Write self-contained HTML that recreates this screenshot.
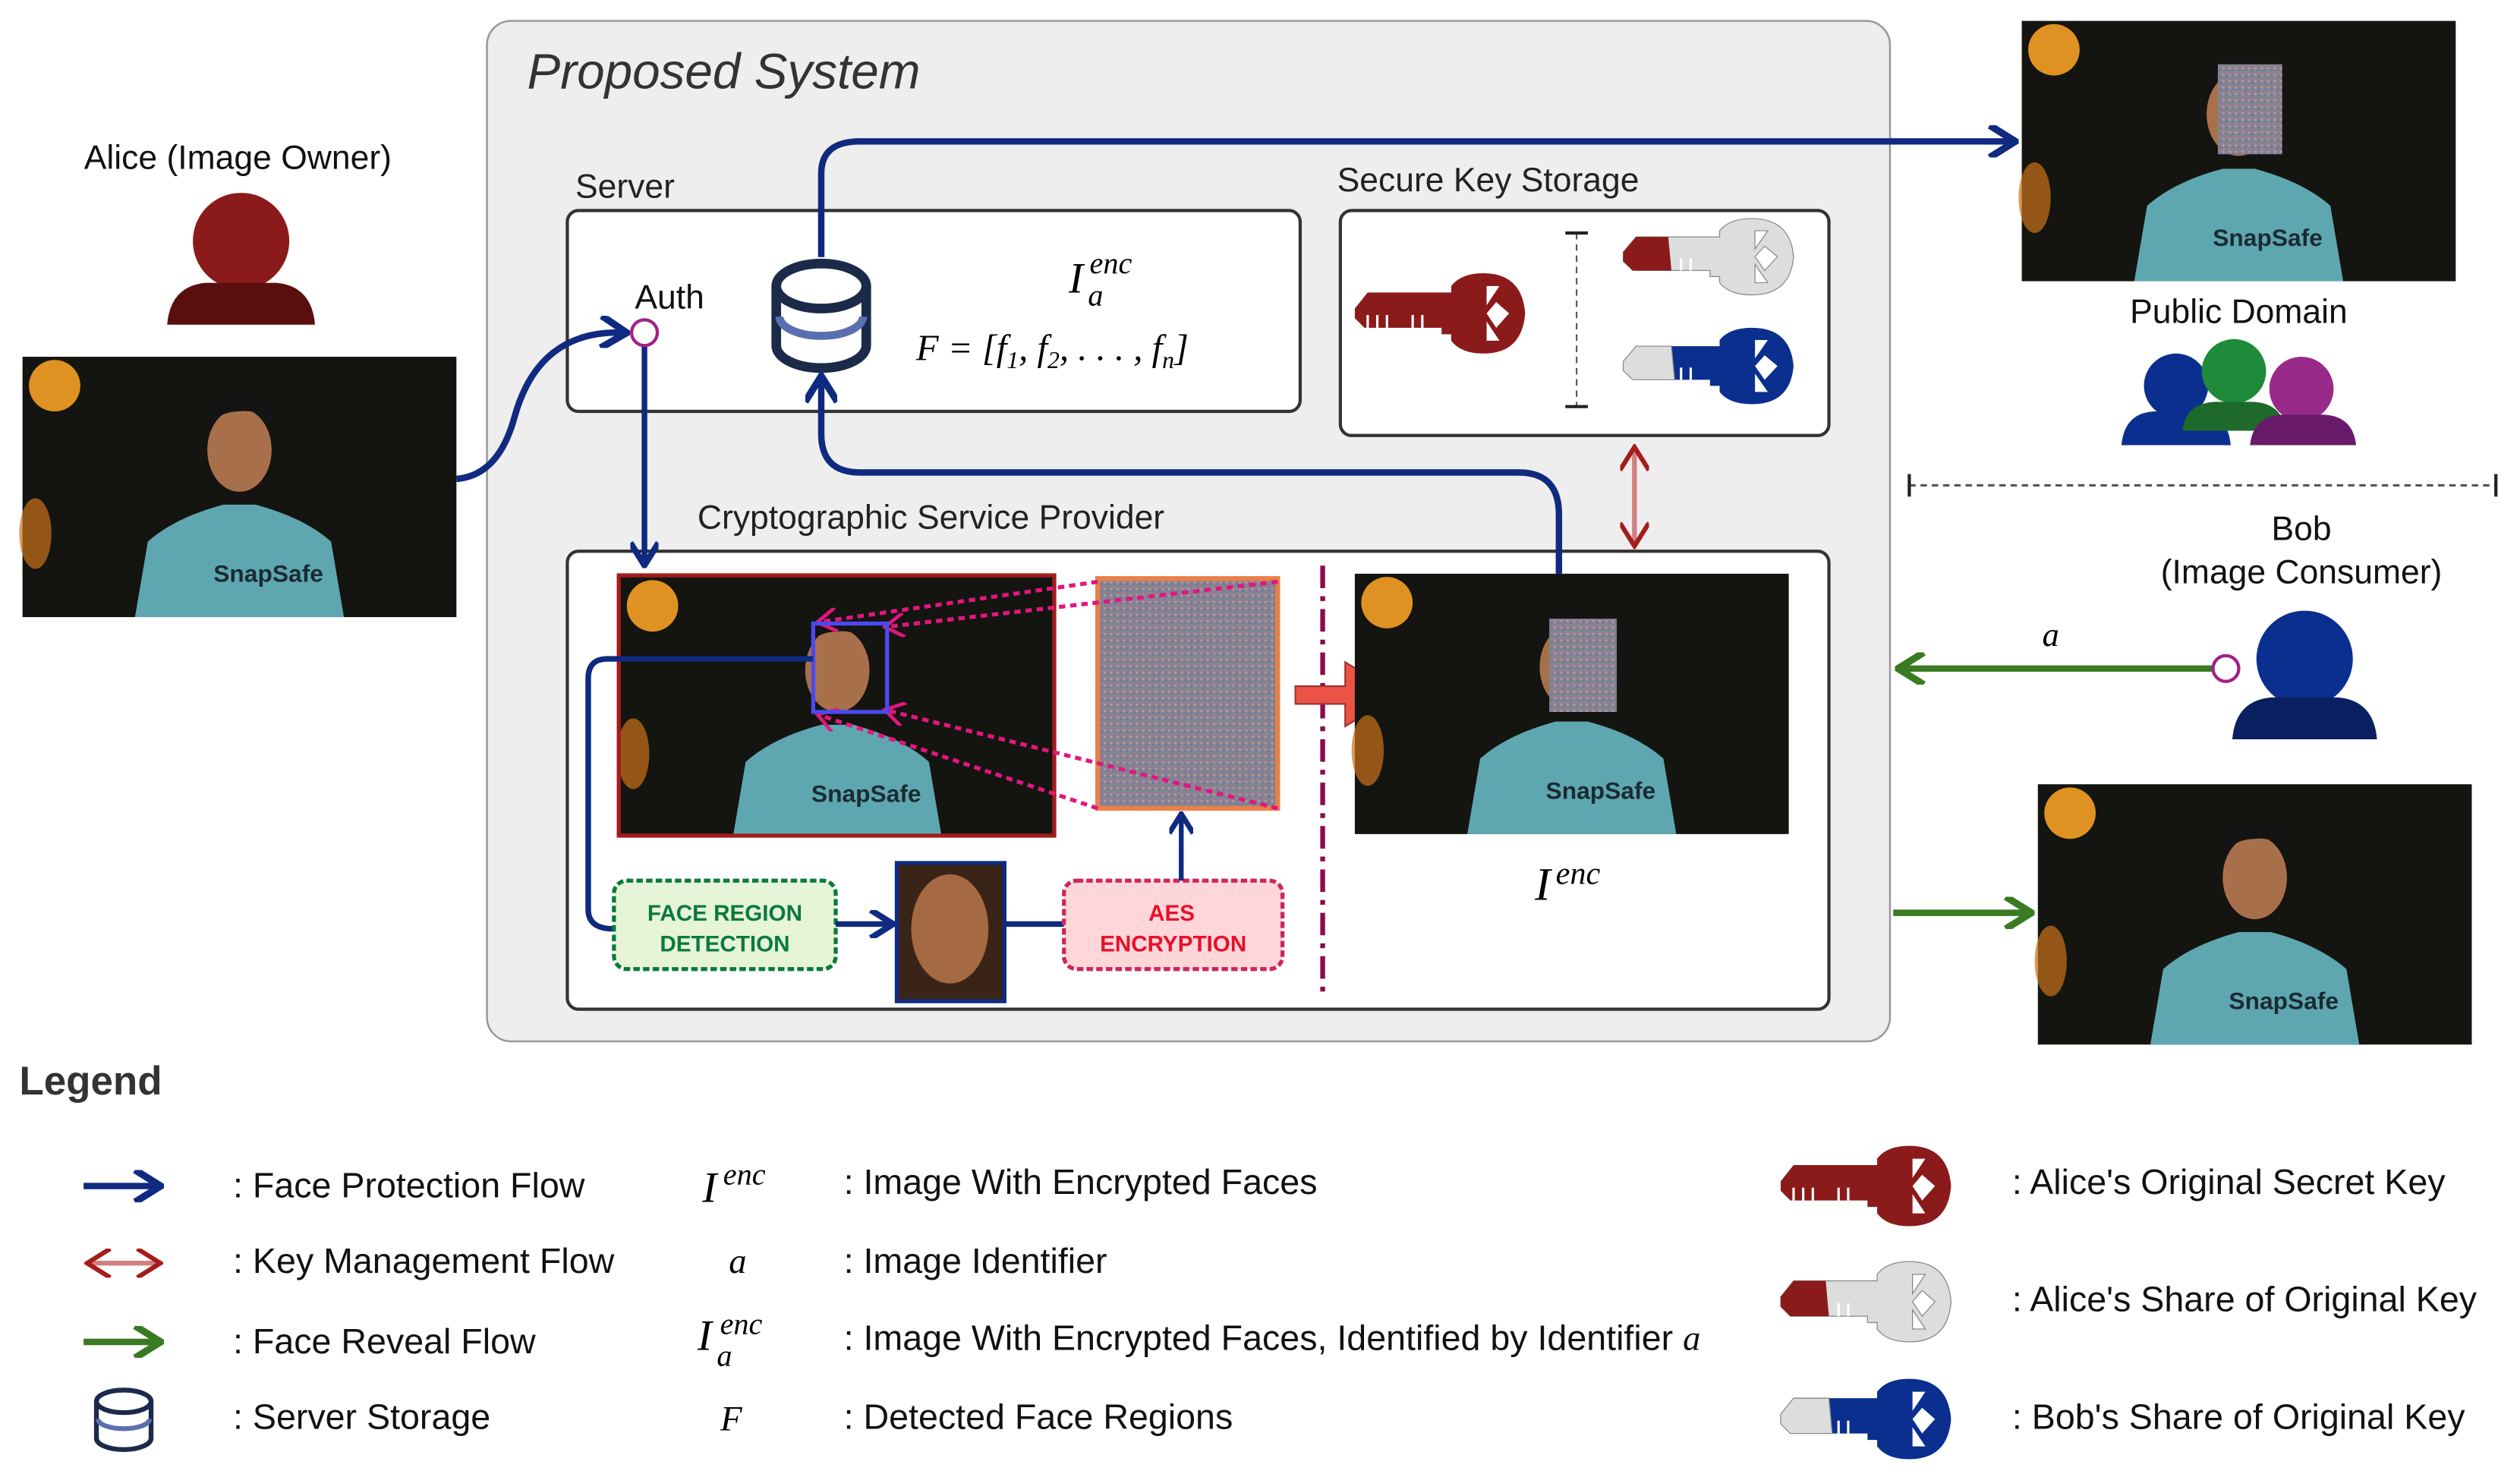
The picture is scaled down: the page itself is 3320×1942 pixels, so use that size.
<!DOCTYPE html>
<html><head><meta charset="utf-8"><style>
html,body{margin:0;padding:0;background:#fff}
svg{display:block}
text{font-family:"Liberation Sans",sans-serif}
.m{font-family:"Liberation Serif",serif;font-style:italic}
</style></head><body>
<svg width="3320" height="1942" viewBox="0 0 1568 917.2" preserveAspectRatio="none" xmlns="http://www.w3.org/2000/svg">
<defs>
<marker id="ab" viewBox="0 0 10 10" refX="8" refY="5" markerWidth="5" markerHeight="5" orient="auto"><path d="M1,0 L9,5 L1,10" fill="none" stroke="#0f2a80" stroke-width="2.2"/></marker>
<marker id="ag" viewBox="0 0 10 10" refX="8" refY="5" markerWidth="5" markerHeight="5" orient="auto"><path d="M1,0 L9,5 L1,10" fill="none" stroke="#3a7a22" stroke-width="2.2"/></marker>
<marker id="ar" viewBox="0 0 10 10" refX="8" refY="5" markerWidth="6" markerHeight="6" orient="auto-start-reverse"><path d="M1,0 L9,5 L1,10" fill="none" stroke="#a51c1c" stroke-width="1.6"/></marker>
<marker id="ap" viewBox="0 0 10 10" refX="8" refY="5" markerWidth="6" markerHeight="6" orient="auto"><path d="M1,0 L9,5 L1,10" fill="none" stroke="#e0177f" stroke-width="1.5"/></marker>
<pattern id="nz" width="4" height="4" patternUnits="userSpaceOnUse"><rect width="4" height="4" fill="#8a8290"/><rect width="1" height="1" fill="#5a9a6a"/><rect x="2" y="1" width="1" height="1" fill="#b070b0"/><rect x="1" y="3" width="1" height="1" fill="#6070c0"/><rect x="3" y="2" width="1" height="1" fill="#c0b0a0"/></pattern>
<g id="photo">
<rect width="270" height="162" fill="#141410"/>
<circle cx="20" cy="18" r="16" fill="#f5a023" opacity=".9"/>
<ellipse cx="8" cy="110" rx="10" ry="22" fill="#c9721a" opacity=".7"/>
<path d="M70,162 L78,115 Q95,100 125,92 L145,92 Q175,100 192,115 L200,162 Z" fill="#5fa7b0"/>
<ellipse cx="135" cy="58" rx="20" ry="26" fill="#a8704a"/>
<path d="M113,48 Q115,20 135,22 Q158,20 158,48 Q150,32 135,34 Q120,34 113,48Z" fill="#141414"/>
<text x="153" y="140" font-family="Liberation Serif,serif" font-weight="bold" font-size="15" fill="#1a2b33" text-anchor="middle">SnapSafe</text>
</g>
<g id="key">
<path d="M0,22 L8,12 L60,12 L60,8 Q66,0 80,0 Q104,0 106,25 Q104,50 80,50 Q66,50 60,42 L60,38 L54,38 L54,34 L6,34 L0,28Z"/>
<path d="M82,8 L90,8 L82,20Z M88,18 L96,25 L88,34 L82,25Z M82,30 L90,42 L82,42Z" fill="#fff"/>
<path d="M8,34 v-8 M14,34 v-8 M20,34 v-8 M36,34 v-8 M42,34 v-8" stroke="#fff" stroke-width="1.5"/>
</g>
</defs>

<rect x="303" y="13" width="873" height="635" rx="15" fill="#eeeeee" stroke="#9a9a9a" stroke-width="1.2"/>
<text x="328" y="55" font-size="31" font-style="italic" fill="#333">Proposed System</text>
<text x="358" y="123" font-size="21" fill="#222">Server</text>
<rect x="353" y="131" width="456" height="125" rx="7" fill="#fff" stroke="#333" stroke-width="2"/>
<text x="832" y="119" font-size="21" fill="#222">Secure Key Storage</text>
<rect x="834" y="131" width="304" height="140" rx="7" fill="#fff" stroke="#333" stroke-width="2"/>
<text x="434" y="329" font-size="21" fill="#222">Cryptographic Service Provider</text>
<rect x="353" y="343" width="785" height="285" rx="7" fill="#fff" stroke="#333" stroke-width="2"/>

<text x="148" y="105" font-size="21" text-anchor="middle" fill="#111">Alice (Image Owner)</text>
<circle cx="150" cy="150" r="30" fill="#8b1a1a"/>
<path d="M104,202 Q106,178 128,176 L172,176 Q194,178 196,202Z" fill="#5a0f0f"/>
<use href="#photo" x="14" y="222"/>

<path d="M284,298 Q310,296 320,260 Q335,205 388,207" fill="none" stroke="#0f2a80" stroke-width="4" marker-end="url(#ab)"/>
<text x="395" y="192" font-size="21" fill="#111">Auth</text>
<line x1="401" y1="215" x2="401" y2="350" stroke="#0f2a80" stroke-width="3.5" marker-end="url(#ab)"/>
<circle cx="401" cy="207" r="8" fill="#fff" stroke="#a0208a" stroke-width="2"/>

<path d="M511,160 L511,108 Q511,88 535,88 L1252,88" fill="none" stroke="#0f2a80" stroke-width="4" marker-end="url(#ab)"/>
<g stroke="#1c2a4a" stroke-width="6" fill="#fff">
<path d="M483,178 L483,215 A28,14 0 0 0 539,215 L539,178"/>
<ellipse cx="511" cy="178" rx="28" ry="14"/>
</g>
<path d="M485,197 A26,12 0 0 0 537,197" stroke="#5a6fb0" stroke-width="5" fill="none"/>
<path d="M970,357 L970,320 Q970,294 945,294 L535,294 Q511,294 511,270 L511,236" fill="none" stroke="#0f2a80" stroke-width="4" marker-end="url(#ab)"/>
<text x="665" y="182" class="m" font-size="27">I</text><text x="678" y="170" class="m" font-size="19">enc</text><text x="677" y="190" class="m" font-size="19">a</text>
<text x="570" y="224" class="m" font-size="23">F = [f<tspan font-size="15" dy="5">1</tspan><tspan dy="-5">, f</tspan><tspan font-size="15" dy="5">2</tspan><tspan dy="-5">, . . . , f</tspan><tspan font-size="15" dy="5">n</tspan><tspan dy="-5">]</tspan></text>

<use href="#key" x="843" y="170" fill="#8b1a1a"/>
<line x1="981" y1="145" x2="981" y2="253" stroke="#555" stroke-dasharray="4,3"/>
<line x1="974" y1="145" x2="988" y2="145" stroke="#222" stroke-width="2"/><line x1="974" y1="253" x2="988" y2="253" stroke="#222" stroke-width="2"/>
<g transform="translate(1010,136) scale(1,.95)"><use href="#key" fill="#dddddd" stroke="#888" stroke-width=".6"/><path d="M0,22 L8,12 L28,12 L30,34 L6,34 L0,28Z" fill="#8b1a1a"/></g>
<g transform="translate(1010,204) scale(1,.95)"><use href="#key" fill="#0b2f8f"/><path d="M0,22 L8,12 L30,12 L32,34 L6,34 L0,28Z" fill="#dddddd" stroke="#888" stroke-width=".6"/></g>

<line x1="1017" y1="280" x2="1017" y2="338" stroke="#d08080" stroke-width="3" marker-start="url(#ar)" marker-end="url(#ar)"/>

<use href="#photo" x="1258" y="13"/>
<rect x="1380" y="40" width="40" height="56" fill="url(#nz)"/>
<text x="1393" y="201" font-size="21" text-anchor="middle" fill="#111">Public Domain</text>
<circle cx="1354" cy="240" r="20" fill="#0b2f8f"/><path d="M1320,277 Q1322,256 1342,256 L1366,256 Q1386,256 1388,277Z" fill="#0b2f8f"/>
<circle cx="1390" cy="231" r="20" fill="#1e8a3a"/><path d="M1358,268 Q1360,250 1380,250 L1400,250 Q1420,250 1422,268Z" fill="#1e6a2a"/>
<circle cx="1432" cy="242" r="20" fill="#9a2a8a"/><path d="M1400,277 Q1402,258 1422,258 L1444,258 Q1464,258 1466,277Z" fill="#6a1a6a"/>
<line x1="1188" y1="302" x2="1553" y2="302" stroke="#555" stroke-width="1.5" stroke-dasharray="4,3"/>
<line x1="1188" y1="295" x2="1188" y2="309" stroke="#222" stroke-width="2"/><line x1="1553" y1="295" x2="1553" y2="309" stroke="#222" stroke-width="2"/>

<text x="1432" y="336" font-size="21" text-anchor="middle" fill="#111">Bob</text>
<text x="1432" y="363" font-size="21" text-anchor="middle" fill="#111">(Image Consumer)</text>
<circle cx="1434" cy="410" r="30" fill="#0b2f8f"/>
<path d="M1389,460 Q1391,436 1413,434 L1455,434 Q1477,436 1479,460Z" fill="#0a2060"/>
<line x1="1378" y1="416" x2="1183" y2="416" stroke="#3a7a22" stroke-width="4" marker-end="url(#ag)"/>
<circle cx="1385" cy="416" r="8" fill="#fff" stroke="#a0208a" stroke-width="2"/>
<text x="1276" y="402" class="m" font-size="21" text-anchor="middle">a</text>
<line x1="1178" y1="568" x2="1262" y2="568" stroke="#3a7a22" stroke-width="4" marker-end="url(#ag)"/>
<use href="#photo" x="1268" y="488"/>

<use href="#photo" x="386" y="359"/>
<rect x="385" y="358" width="271" height="162" fill="none" stroke="#a51c1c" stroke-width="2.5"/>
<rect x="683" y="360" width="112" height="143" fill="url(#nz)" stroke="#e8804a" stroke-width="3"/>
<g stroke="#e0177f" stroke-width="2.5" stroke-dasharray="4,3" fill="none">
<line x1="683" y1="362" x2="510" y2="387" marker-end="url(#ap)"/>
<line x1="795" y1="362" x2="552" y2="390" marker-end="url(#ap)"/>
<line x1="683" y1="503" x2="510" y2="445" marker-end="url(#ap)"/>
<line x1="795" y1="503" x2="552" y2="442" marker-end="url(#ap)"/>
</g>
<rect x="506" y="388" width="46" height="55" fill="none" stroke="#4a4af0" stroke-width="2.5"/>
<line x1="823" y1="352" x2="823" y2="622" stroke="#8b0a50" stroke-width="3" stroke-dasharray="14,5,3,5"/>
<path d="M806,427 L837,427 L837,412 L870,432 L837,452 L837,438 L806,438Z" fill="#ea5346" stroke="#a03030" stroke-width="1"/>
<use href="#photo" x="843" y="357"/>
<rect x="964" y="385" width="42" height="58" fill="url(#nz)"/>
<text x="955" y="560" class="m" font-size="29">I</text><text x="968" y="550" class="m" font-size="20">enc</text>

<path d="M506,410 L378,410 Q366,410 366,422 L366,566 Q366,578 382,578" fill="none" stroke="#0f2a80" stroke-width="3.5"/>
<rect x="382" y="548" width="138" height="55" rx="8" fill="#e6f4d8" stroke="#0a7a3c" stroke-width="2.5" stroke-dasharray="4,2"/>
<text x="451" y="573" font-size="14" font-weight="bold" fill="#0a7a3c" text-anchor="middle">FACE REGION</text>
<text x="451" y="592" font-size="14" font-weight="bold" fill="#0a7a3c" text-anchor="middle">DETECTION</text>
<line x1="520" y1="575" x2="554" y2="575" stroke="#0f2a80" stroke-width="3.5" marker-end="url(#ab)"/>
<rect x="558" y="537" width="67" height="86" fill="#3a2418" stroke="#0f2a80" stroke-width="2.5"/>
<ellipse cx="591" cy="578" rx="24" ry="34" fill="#a56a44"/>
<line x1="625" y1="575" x2="662" y2="575" stroke="#0f2a80" stroke-width="3.5"/>
<rect x="662" y="548" width="136" height="55" rx="8" fill="#ffd7d9" stroke="#d0245a" stroke-width="2.5" stroke-dasharray="4,2"/>
<text x="729" y="573" font-size="14" font-weight="bold" fill="#e8102a" text-anchor="middle">AES</text>
<text x="730" y="592" font-size="14" font-weight="bold" fill="#e8102a" text-anchor="middle">ENCRYPTION</text>
<line x1="735" y1="548" x2="735" y2="508" stroke="#0f2a80" stroke-width="3" marker-end="url(#ab)"/>

<text x="12" y="681" font-size="25" font-weight="bold" fill="#333">Legend</text>
<line x1="52" y1="738" x2="98" y2="738" stroke="#0f2a80" stroke-width="4" marker-end="url(#ab)"/>
<text x="145" y="745" font-size="22" fill="#111">: Face Protection Flow</text>
<line x1="56" y1="786" x2="98" y2="786" stroke="#d08080" stroke-width="3" marker-start="url(#ar)" marker-end="url(#ar)"/>
<text x="145" y="792" font-size="22" fill="#111">: Key Management Flow</text>
<line x1="52" y1="835" x2="98" y2="835" stroke="#3a7a22" stroke-width="4" marker-end="url(#ag)"/>
<text x="145" y="842" font-size="22" fill="#111">: Face Reveal Flow</text>
<g stroke="#1c2a4a" stroke-width="3" fill="#fff">
<path d="M60,872 L60,895 A17,7 0 0 0 94,895 L94,872"/>
<ellipse cx="77" cy="872" rx="17" ry="7"/>
</g>
<path d="M61,883 A16,6 0 0 0 93,883" stroke="#5a6fb0" stroke-width="3" fill="none"/>
<text x="145" y="889" font-size="22" fill="#111">: Server Storage</text>

<text x="437" y="748" class="m" font-size="27">I</text><text x="450" y="737" class="m" font-size="19">enc</text>
<text x="525" y="743" font-size="22" fill="#111">: Image With Encrypted Faces</text>
<text x="459" y="792" class="m" font-size="22" text-anchor="middle">a</text>
<text x="525" y="792" font-size="22" fill="#111">: Image Identifier</text>
<text x="434" y="840" class="m" font-size="27">I</text><text x="448" y="830" class="m" font-size="19">enc</text><text x="446" y="850" class="m" font-size="19">a</text>
<text x="525" y="840" font-size="22" fill="#111">: Image With Encrypted Faces, Identified by Identifier <tspan font-family="Liberation Serif,serif" font-style="italic">a</tspan></text>
<text x="455" y="890" class="m" font-size="22" text-anchor="middle">F</text>
<text x="525" y="889" font-size="22" fill="#111">: Detected Face Regions</text>

<use href="#key" x="1108" y="713" fill="#8b1a1a"/>
<text x="1252" y="743" font-size="22" fill="#111">: Alice's Original Secret Key</text>
<g transform="translate(1108,785)"><use href="#key" fill="#dddddd" stroke="#888" stroke-width=".6"/><path d="M0,22 L8,12 L28,12 L30,34 L6,34 L0,28Z" fill="#8b1a1a"/></g>
<text x="1252" y="816" font-size="22" fill="#111">: Alice's Share of Original Key</text>
<g transform="translate(1108,858)"><use href="#key" fill="#0b2f8f"/><path d="M0,22 L8,12 L30,12 L32,34 L6,34 L0,28Z" fill="#dddddd" stroke="#888" stroke-width=".6"/></g>
<text x="1252" y="889" font-size="22" fill="#111">: Bob's Share of Original Key</text>
</svg>
</body></html>
